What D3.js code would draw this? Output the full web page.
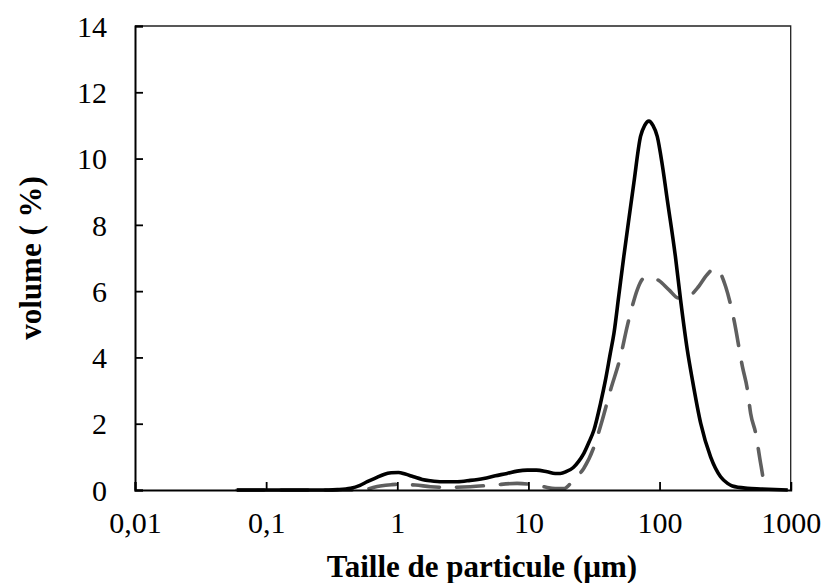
<!DOCTYPE html>
<html><head><meta charset="utf-8">
<script src="https://cdn.jsdelivr.net/npm/d3@7"></script>
<style>body{margin:0;background:#fff}svg{display:block}</style>
</head><body>
<script>
const solidX = [0.06,0.1,0.2,0.3,0.35,0.44,0.52,0.59,0.7,0.79,0.9,1.02,1.15,1.33,1.55,1.79,2.2,2.86,3.6,4.56,5.6,6.87,8.2,9.8,11.5,13.9,16,17.5,19.5,22,24,26.4,29,31.6,35.5,38.7,42,44.9,49,53.4,58,63.7,71.6,77,82.9,89,96,105,114.5,132,144.6,162.7,178,206,245,292,330,359,468,590,950];
const solidY = [0,0,0,0,0.01,0.05,0.14,0.25,0.38,0.47,0.52,0.53,0.48,0.4,0.32,0.28,0.25,0.25,0.29,0.35,0.43,0.5,0.57,0.6,0.6,0.55,0.5,0.5,0.56,0.68,0.85,1.1,1.45,1.81,2.62,3.32,4.1,4.73,5.9,7.05,8.1,9.27,10.67,11.0,11.13,11.0,10.67,9.8,8.76,7.05,5.74,4.23,3.32,2.01,1.0,0.4,0.2,0.12,0.05,0.03,0];
const dashX = [0.06,0.5,0.57,0.74,0.9,1.0,1.2,1.37,1.79,2.4,3.6,5.4,8.2,10.4,13,16,18.6,21,23.5,26.4,31.6,36.5,42.3,50.4,56.6,61.9,67.6,75.9,86,98.8,118,140,160,194,231,260,284,319,369,428,468,495,541,590,644,660];
const dashY = [0,0,0.02,0.12,0.16,0.17,0.16,0.15,0.1,0.08,0.1,0.15,0.2,0.17,0.1,0.04,0.04,0.2,0.4,0.65,1.3,2.1,3.02,4.03,4.93,5.54,6.04,6.39,6.42,6.32,6.04,5.79,5.8,6.09,6.5,6.68,6.6,6.14,5.14,3.73,3.02,2.31,1.71,0.8,0.05,0];
const xTicks = [0.01,0.1,1,10,100,1000];
const xTickLabels = ["0,01","0,1","1","10","100","1000"];
const yTicks = [0,2,4,6,8,10,12,14];

const W=824,H=583;
const L=135,T=26,R=790.7,B=490;
const svg=d3.select("body").append("svg").attr("width",W).attr("height",H);
const x=d3.scaleLog().domain([0.01,1000]).range([L,R]);
const y=d3.scaleLinear().domain([0,14]).range([B,T]);
const font="Liberation Serif";

// top & right frame
svg.append("path").attr("d",`M${L},${T}H${R}V${B}`).attr("fill","none").attr("stroke","#222").attr("stroke-width",1.3);

const line=d3.line().x(d=>x(d[0])).y(d=>y(d[1])).curve(d3.curveMonotoneX);
svg.append("path").datum(dashX.map((v,i)=>[v,dashY[i]])).attr("d",line)
  .attr("fill","none").attr("stroke","#5f5f5f").attr("stroke-width",3.6)
  .attr("stroke-dasharray","27,17").attr("stroke-linecap","round").attr("stroke-linejoin","round");
svg.append("path").datum(solidX.map((v,i)=>[v,solidY[i]])).attr("d",line)
  .attr("fill","none").attr("stroke","#000").attr("stroke-width",3.6).attr("stroke-linejoin","round");

// axes
const yAxis=d3.axisLeft(y).tickValues(yTicks).tickSize(-8).tickPadding(36).tickFormat(d3.format("d"));
const gy=svg.append("g").attr("transform",`translate(${L},0)`).call(yAxis);
const xAxis=d3.axisBottom(x).tickValues(xTicks).tickSize(-8).tickPadding(22).tickFormat((d,i)=>xTickLabels[i]);
const gx=svg.append("g").attr("transform",`translate(0,${B})`).call(xAxis);
[gx,gy].forEach(g=>{
  g.attr("font-family",font).attr("font-size",30);
  g.select(".domain").attr("stroke","#000").attr("stroke-width",2);
  g.selectAll(".tick line").attr("stroke","#000").attr("stroke-width",1.8);
  g.selectAll("text").style("font-family",font).attr("font-size",30).attr("fill","#000");
});
gy.selectAll(".tick text").attr("x",-28).attr("dy","0.34em");
gx.selectAll(".tick text").attr("dy","0.71em");

svg.append("text").attr("x",482).attr("y",577).attr("text-anchor","middle")
  .style("font-family",font).attr("font-weight","bold").attr("font-size",31).text("Taille de particule (µm)");
svg.append("text").attr("transform",`translate(41,${(T+B)/2}) rotate(-90)`).attr("text-anchor","middle")
  .style("font-family",font).attr("font-weight","bold").attr("font-size",31).text("volume ( %)");
</script>
</body></html>
